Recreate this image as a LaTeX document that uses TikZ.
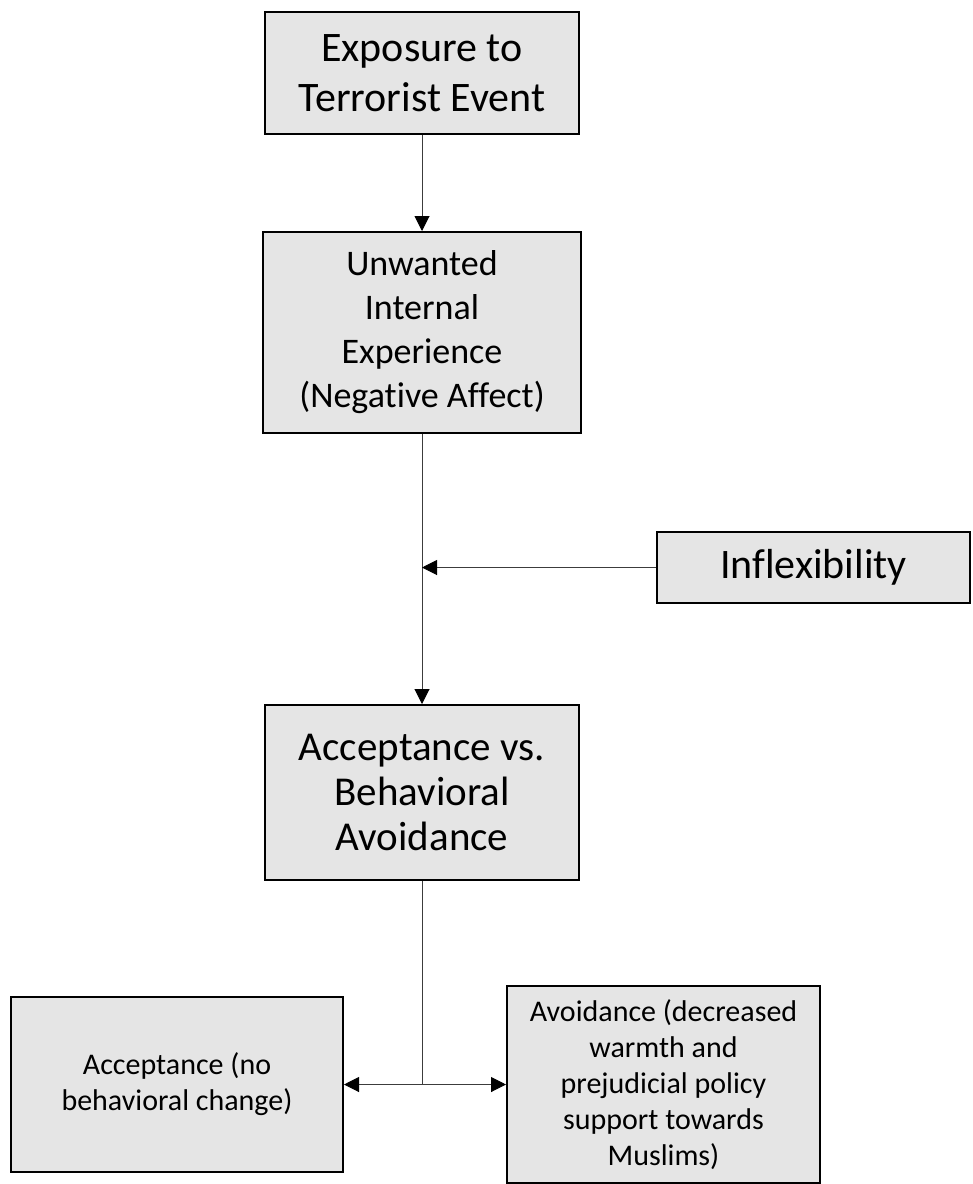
\documentclass[tikz,border=0pt]{standalone}
\usepackage{fontspec}
\setmainfont[Ligatures=NoCommon]{Carlito}
\usetikzlibrary{arrows.meta}
\definecolor{boxgray}{RGB}{229,229,229}
\definecolor{linegray}{RGB}{60,60,60}
\begin{document}
\begin{tikzpicture}[x=1pt,y=-1pt,
  box/.style={draw=black, line width=2pt, fill=boxgray, align=center, inner sep=0pt},
  big/.style={font=\fontsize{42}{50}\selectfont},
  bigtight/.style={font=\fontsize{41}{45}\selectfont},
  mid/.style={font=\fontsize{36}{44}\selectfont},
  small/.style={font=\fontsize{30}{36}\selectfont},
  conn/.style={draw=linegray, line width=1pt},
  tipped/.style={-{Triangle[length=15pt,width=15pt,color=black]}}]
\useasboundingbox (0,0) rectangle (973,1184);

\node[box, big, minimum width=314pt, minimum height=122pt] (b1) at (422,73) {Exposure to\\Terrorist Event};
\node[box, mid, minimum width=318pt, minimum height=201pt] (b2) at (422,332.5) {Unwanted\\Internal\\Experience\\(Negative Af{}fect)};
\node[box, big, minimum width=313pt, minimum height=71pt] (inf) at (813.5,567.5) {Inflexibility};
\node[box, bigtight, minimum width=314pt, minimum height=175pt] (b3) at (422,792.5) {Acceptance vs.\\Behavioral\\Avoidance};
\node[box, small, minimum width=332pt, minimum height=175pt] (acc) at (177,1084.5) {Acceptance (no\\behavioral change)};
\node[box, small, minimum width=313pt, minimum height=197pt] (avo) at (663.5,1084.5) {Avoidance (decreased\\warmth and\\prejudicial policy\\support towards\\Muslims)};

\draw[conn,tipped] (b1.south) -- (b2.north);
\draw[conn,tipped] (b2.south) -- (b3.north);
\draw[conn,tipped] (inf.west) -- (inf.west -| b2.south);
\coordinate (j) at (b3.south |- avo.west);
\draw[conn] (b3.south) -- (j);
\draw[conn,tipped] (j) -- (acc.east |- j);
\draw[conn,tipped] (j) -- (avo.west);
\end{tikzpicture}
\end{document}
